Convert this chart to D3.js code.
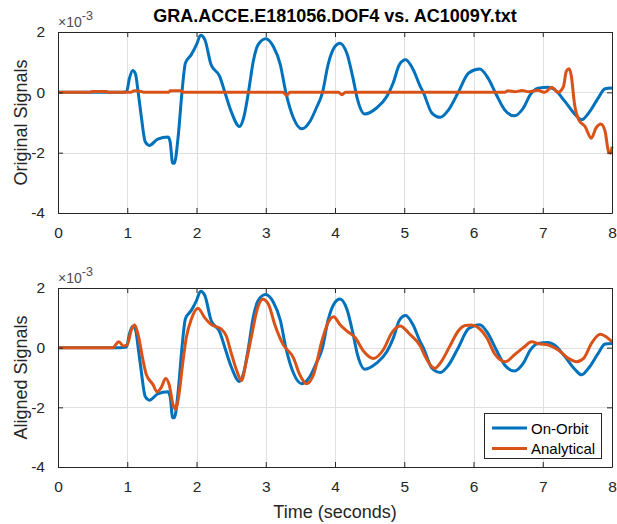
<!DOCTYPE html>
<html><head><meta charset="utf-8">
<script src="https://cdn.jsdelivr.net/npm/d3@7"></script>
<style>
body{margin:0;background:#fff;}
svg{display:block;font-family:"Liberation Sans",Arial,sans-serif;}
</style></head>
<body><svg id="c" width="617" height="524"></svg>
<script>
// ---- data (values in units of 1e-3) ----
const title = "GRA.ACCE.E181056.DOF4 vs. AC1009Y.txt";
const xTicks = [0,1,2,3,4,5,6,7,8];
const yTicks = [-4,-2,0,2];
const seriesNames = ["On-Orbit","Analytical"];

const orbitT = [0,0.5,0.9,0.99,1.03,1.08,1.12,1.155,1.2,1.26,1.32,1.44,1.59,1.62,1.656,1.68,1.733,1.79,1.84,1.925,2.0,2.06,2.12,2.21,2.335,2.41,2.50,2.62,2.68,2.75,2.82,2.89,3.0,3.11,3.21,3.29,3.40,3.52,3.64,3.73,3.82,3.90,4.0,4.07,4.17,4.26,4.32,4.43,4.60,4.75,4.84,4.93,5.02,5.13,5.23,5.275,5.40,5.52,5.64,5.78,5.93,6.09,6.21,6.33,6.45,6.59,6.72,6.82,6.93,7.08,7.17,7.32,7.47,7.56,7.68,7.80,7.90,8.0];
const orbitV = [0,0,0,0.02,0.45,0.72,0.6,0.05,-0.75,-1.64,-1.76,-1.55,-1.48,-1.65,-2.35,-2.35,-1.52,0,0.97,1.25,1.58,1.89,1.75,0.92,0.53,0,-0.63,-1.13,-0.85,0,1.03,1.58,1.78,1.52,0.92,0,-0.85,-1.21,-0.96,-0.52,0,0.92,1.52,1.63,1.30,0.47,-0.19,-0.72,-0.52,-0.13,0.31,0.92,1.08,0.75,0.20,0,-0.69,-0.83,-0.58,0,0.64,0.77,0.47,-0.08,-0.58,-0.78,-0.52,-0.08,0.14,0.17,0.09,-0.30,-0.74,-0.91,-0.63,-0.19,0.12,0.14];

const origAnaT = [0,0.45,0.5,0.7,0.72,1.05,1.1,1.2,1.25,1.6,1.62,1.78,1.8,3.25,3.3,3.35,4.05,4.1,4.15,6.45,6.5,6.6,6.7,6.8,6.93,7.03,7.13,7.22,7.30,7.34,7.38,7.41,7.46,7.52,7.61,7.70,7.77,7.84,7.90,7.95,7.98,8.0];
const origAnaV = [0,0,0.03,0.03,0,0,0.05,0.03,0,0,0.05,0.05,0,0,-0.1,0,0,-0.08,0,0,0.05,0.02,0.06,0.02,0.07,0,0.17,0,0.2,0.70,0.78,0.58,-0.41,-0.91,-1.13,-1.52,-1.18,-1.05,-1.29,-1.96,-2.02,-1.8];

const alignAnaT = [0,0.8,0.82,0.88,0.94,1.0,1.06,1.107,1.155,1.23,1.275,1.37,1.43,1.49,1.555,1.61,1.66,1.70,1.74,1.805,1.853,1.925,2.02,2.12,2.21,2.36,2.43,2.50,2.575,2.65,2.72,2.80,2.87,2.956,3.04,3.13,3.25,3.40,3.49,3.59,3.69,3.81,3.90,3.98,4.07,4.17,4.29,4.41,4.555,4.70,4.82,4.94,5.08,5.23,5.30,5.37,5.44,5.54,5.66,5.78,5.88,5.97,6.07,6.19,6.31,6.46,6.60,6.72,6.84,6.94,7.08,7.23,7.37,7.49,7.59,7.71,7.83,7.92,8.0];
const alignAnaV = [0,0,0.06,0.2,0.06,0.1,0.6,0.76,0.45,-0.45,-0.9,-1.23,-1.48,-1.34,-1.03,-1.28,-1.9,-2.07,-1.68,-0.45,0.34,0.95,1.32,1.0,0.78,0.62,0.39,-0.17,-0.73,-1.1,-0.45,0.45,1.23,1.62,1.45,0.78,0.11,-0.34,-0.9,-1.21,-0.9,0.22,0.84,1.04,0.78,0.56,0.34,-0.11,-0.36,-0.06,0.5,0.73,0.45,0.06,-0.28,-0.56,-0.69,-0.45,0.06,0.56,0.74,0.76,0.67,0.34,-0.22,-0.47,-0.22,0,0.2,0.13,0.09,-0.09,-0.36,-0.47,-0.36,0.17,0.45,0.36,0.2];

// ---- drawing ----
const svg = d3.select("#c");
const blue = "#0072BD", orange = "#D95319", ink = "#262626";
const zip = (t,v) => t.map((d,i)=>({t:d,v:v[i]}));
const fmt = d => String(d);

const x = d3.scaleLinear().domain([0,8]).range([58,612]);

function panel(top, bottom, ylabel, series, showLegend, showXLabel){
  const y = d3.scaleLinear().domain([-4,2]).range([bottom, top]);
  const g = svg.append("g");
  // grid
  g.append("g").selectAll("line").data(xTicks.slice(1,-1)).join("line")
    .attr("x1",d=>Math.round(x(d))+0.5).attr("x2",d=>Math.round(x(d))+0.5)
    .attr("y1",top).attr("y2",bottom).attr("stroke","#dfdfdf").attr("stroke-width",1);
  g.append("g").selectAll("line").data(yTicks.slice(1)).join("line")
    .attr("y1",d=>Math.round(y(d))+0.5).attr("y2",d=>Math.round(y(d))+0.5)
    .attr("x1",58).attr("x2",612).attr("stroke","#dfdfdf").attr("stroke-width",1);

  const line = d3.line().x(d=>x(d.t)).y(d=>y(d.v)).curve(d3.curveMonotoneX);
  series.forEach(s=>{
    g.append("path").datum(zip(s.t,s.v)).attr("d",line)
      .attr("fill","none").attr("stroke",s.color).attr("stroke-width",3)
      .attr("stroke-linejoin","round");
  });

  // axes with inward ticks
  const ax = g.append("g").attr("transform",`translate(0,${bottom})`)
    .call(d3.axisBottom(x).tickValues(xTicks).tickFormat(fmt).tickSizeInner(-5).tickSizeOuter(0).tickPadding(14));
  const axT = g.append("g").attr("transform",`translate(0,${top})`)
    .call(d3.axisTop(x).tickValues(xTicks).tickSizeInner(-5).tickSizeOuter(0).tickFormat(""));
  const ay = g.append("g").attr("transform",`translate(58,0)`)
    .call(d3.axisLeft(y).tickValues(yTicks).tickFormat(fmt).tickSizeInner(-5).tickSizeOuter(0).tickPadding(13));
  const ayR = g.append("g").attr("transform",`translate(612,0)`)
    .call(d3.axisRight(y).tickValues(yTicks).tickSizeInner(-5).tickSizeOuter(0).tickFormat(""));
  [ax,axT,ay,ayR].forEach(a=>{
    a.selectAll("path").attr("stroke",ink).attr("stroke-width",1);
    a.selectAll("line").attr("stroke",ink);
    a.selectAll("text").attr("fill",ink).style("font-size","15.5px").style("font-family","'Liberation Sans',Arial,sans-serif");
  });
  // exponent label
  const ex = g.append("text").attr("x",58).attr("y",top-5.5).attr("fill","#4d4d4d")
    .style("font-size","14px");
  ex.append("tspan").text("\u00d710");
  ex.append("tspan").attr("dy",-7).style("font-size","12.5px").text("-3");

  // y label
  g.append("text").attr("transform",`translate(27,${(top+bottom)/2}) rotate(-90)`)
    .attr("text-anchor","middle").attr("fill",ink).style("font-size","18px").text(ylabel);

  if(showXLabel){
    g.append("text").attr("x",335).attr("y",518).attr("text-anchor","middle")
      .attr("fill",ink).style("font-size","18px").text("Time (seconds)");
  }
  if(showLegend){
    const lg = g.append("g");
    lg.append("rect").attr("x",484.5).attr("y",413.5).attr("width",117).attr("height",45)
      .attr("fill","#fff").attr("stroke",ink).attr("stroke-width",1);
    seriesNames.forEach((n,i)=>{
      const yy = 428 + i*20.5;
      lg.append("line").attr("x1",492).attr("x2",527).attr("y1",yy).attr("y2",yy)
        .attr("stroke",i===0?blue:orange).attr("stroke-width",3);
      lg.append("text").attr("x",531).attr("y",yy+5.5).attr("fill","#000")
        .style("font-size","15px").text(n);
    });
  }
}

panel(32, 213, "Original Signals", [
  {t:orbitT, v:orbitV, color:blue},
  {t:origAnaT, v:origAnaV, color:orange}
], false, false);

panel(288, 467, "Aligned Signals", [
  {t:orbitT, v:orbitV, color:blue},
  {t:alignAnaT, v:alignAnaV, color:orange}
], true, true);

svg.append("text").attr("x",335).attr("y",22).attr("text-anchor","middle")
  .attr("fill","#000").style("font-size","18px").style("font-weight","bold").text(title);
</script>
</body></html>
